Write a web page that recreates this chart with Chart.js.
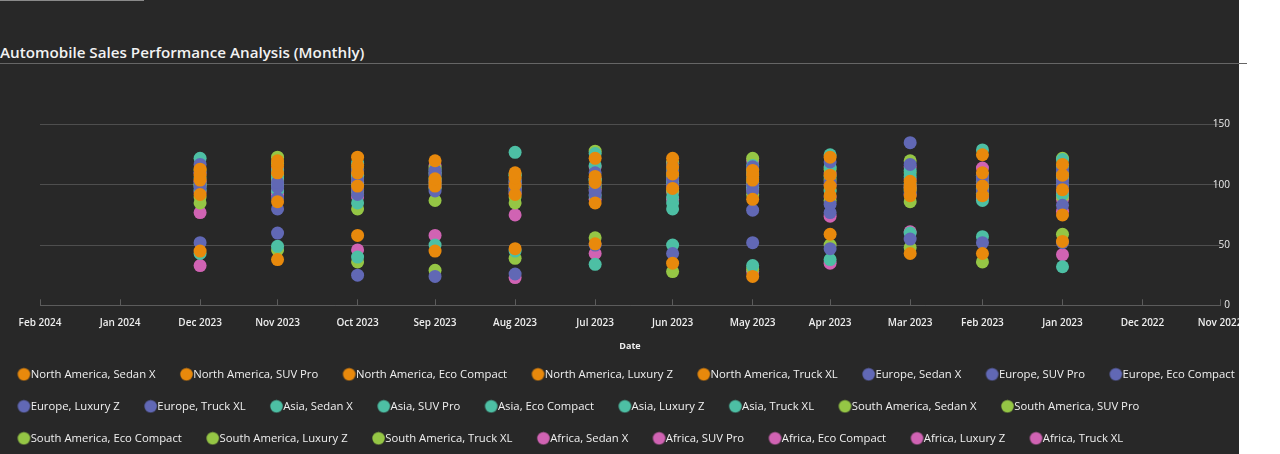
<!DOCTYPE html>
<html>
<head>
<meta charset="utf-8">
<script src="https://cdn.jsdelivr.net/npm/chart.js@4.4.1/dist/chart.umd.min.js"></script>
<style>
  body { margin: 0; background: #fff; font-family: 'Segoe UI', 'Open Sans', sans-serif; }
  #panel { position: absolute; left: 0; top: 0; width: 1239px; height: 454px; background: #282828; overflow: hidden; }
  #topBar { position: absolute; left: 0; top: 0; width: 144px; height: 1px; background: #8a8a8a; }
  #title { position: absolute; left: 0; top: 42px; line-height: 20px; color: #f2f2f2; font-size: 15.2px; font-weight: 600; white-space: nowrap; }
  #rule { position: absolute; left: 0; top: 63px; width: 1247px; height: 1px; background: #666; }
  #chartBox { position: absolute; left: -7px; top: 64px; width: 1277px; height: 390px; }
</style>
</head>
<body>
<div id="panel">
  <div id="topBar"></div>
  <div id="title">Automobile Sales Performance Analysis (Monthly)</div>
  <div id="chartBox"><canvas id="salesChart"></canvas></div>
</div>
<div id="rule"></div>
<script>
// months shown, newest first (x axis is reversed)
const months = ['2023-12', '2023-11', '2023-10', '2023-09', '2023-08', '2023-07',
                '2023-06', '2023-05', '2023-04', '2023-03', '2023-02', '2023-01'];
const xTickMonths = ['2024-02', '2024-01', '2023-12', '2023-11', '2023-10', '2023-09', '2023-08', '2023-07',
                     '2023-06', '2023-05', '2023-04', '2023-03', '2023-02', '2023-01', '2022-12', '2022-11'];
const xTickLabels = ['Feb 2024', 'Jan 2024', 'Dec 2023', 'Nov 2023', 'Oct 2023', 'Sep 2023', 'Aug 2023', 'Jul 2023',
                     'Jun 2023', 'May 2023', 'Apr 2023', 'Mar 2023', 'Feb 2023', 'Jan 2023', 'Dec 2022', 'Nov 2022'];
const yTicks = [0, 50, 100, 150];

const regions = ['North America', 'Europe', 'Asia', 'South America', 'Africa'];
const models = ['Sedan X', 'SUV Pro', 'Eco Compact', 'Luxury Z', 'Truck XL'];
const regionColors = ['#E8890C', '#6168B5', '#4DBFA4', '#95C645', '#D063B3'];

// one row per model, one value per month
const northAmerica = [
  [113, 120, 123, 120, 110, 122, 122, 112, 123, 103, 125, 117],
  [108, 116, 116, 105, 106, 107, 115, 108, 108, 99, 110, 96],
  [104, 110, 110, 99, 92, 102, 109, 104, 99, 91, 99, 75],
  [92, 86, 99, 45, 47, 85, 97, 88, 91, 43, 91, 53],
  [45, 38, 58, 102, 100, 51, 35, 24, 59, 96, 43, 108]
];
const europe = [
  [117, 102, 92, 95, 101, 110, 116, 95, 119, 135, 105, 103],
  [102, 98, 25, 24, 26, 95, 105, 79, 84, 117, 95, 83],
  [98, 89, 96, 108, 96, 92, 43, 52, 77, 55, 52, 52],
  [52, 80, 104, 112, 104, 50, 100, 100, 47, 100, 108, 99],
  [110, 60, 112, 100, 94, 100, 111, 115, 102, 93, 101, 112]
];
const asia = [
  [122, 106, 85, 112, 127, 126, 90, 116, 125, 112, 129, 121],
  [106, 49, 40, 109, 45, 91, 80, 33, 107, 107, 87, 92],
  [100, 112, 118, 50, 108, 34, 50, 110, 38, 95, 57, 32],
  [43, 100, 100, 104, 98, 116, 85, 98, 95, 60, 108, 106],
  [96, 95, 108, 97, 103, 104, 102, 106, 115, 101, 97, 115]
];
const southAmerica = [
  [99, 123, 105, 87, 85, 128, 107, 122, 113, 120, 36, 122],
  [85, 46, 80, 29, 39, 56, 28, 30, 87, 86, 100, 110],
  [112, 108, 36, 114, 95, 100, 112, 102, 50, 48, 103, 59],
  [90, 104, 113, 106, 108, 98, 95, 113, 104, 110, 93, 100],
  [101, 118, 94, 101, 90, 104, 118, 92, 96, 97, 108, 90]
];
const africa = [
  [77, 95, 46, 116, 75, 115, 94, 120, 74, 61, 114, 78],
  [33, 92, 108, 58, 23, 43, 118, 28, 35, 105, 106, 42],
  [94, 100, 102, 110, 102, 105, 99, 100, 110, 98, 100, 94],
  [103, 104, 90, 103, 97, 88, 104, 109, 100, 115, 89, 105],
  [110, 113, 96, 98, 93, 96, 88, 96, 90, 92, 96, 88]
];
const regionSales = [northAmerica, europe, asia, southAmerica, africa];

const legendFontSize = 11.3;

function dayNumber(ym) {
  const parts = ym.split('-').map(Number);
  return Date.UTC(parts[0], parts[1] - 1, 1) / 86400000;
}

// legend marker: circle pushed right so it sits against the label text
function legendDot(color) {
  const c = document.createElement('canvas');
  c.width = 40;
  c.height = 14;
  const ctx = c.getContext('2d');
  ctx.fillStyle = color;
  ctx.beginPath();
  ctx.arc(20 + legendFontSize - 6.75, 7, 6.25, 0, Math.PI * 2);
  ctx.fill();
  return c;
}

const datasets = [];
regions.forEach((region, r) => {
  models.forEach((model, m) => {
    datasets.push({
      label: region + ', ' + model,
      data: months.map((mo, i) => ({ x: dayNumber(mo), y: regionSales[r][m][i] })),
      backgroundColor: regionColors[r],
      borderWidth: 0,
      pointRadius: 6.5,
      pointHoverRadius: 6.5
    });
  });
});

Chart.defaults.font.family = "'Segoe UI', 'Open Sans', sans-serif";
Chart.defaults.color = '#eeeeee';

new Chart(document.getElementById('salesChart').getContext('2d'), {
  type: 'scatter',
  data: { datasets: datasets },
  options: {
    responsive: true,
    maintainAspectRatio: false,
    animation: false,
    layout: { padding: { top: 24.5, left: 0, right: 0, bottom: 0 } },
    scales: {
      x: {
        type: 'linear',
        reverse: true,
        min: dayNumber('2022-11'),
        max: dayNumber('2024-02'),
        afterBuildTicks: (axis) => { axis.ticks = xTickMonths.map(m => ({ value: dayNumber(m) })); },
        afterFit: (axis) => { axis.paddingLeft = 47; axis.paddingRight = 50; },
        ticks: {
          autoSkip: false,
          maxRotation: 0,
          padding: 17.7,
          color: '#eeeeee',
          font: { size: 10, weight: '600', lineHeight: 1.2 },
          callback: (value, index) => xTickLabels[index]
        },
        grid: { display: true, drawOnChartArea: false, drawTicks: true, tickLength: -6, color: '#5c5c5c' },
        border: { display: true, color: '#5c5c5c' },
        title: {
          display: true,
          text: 'Date',
          color: '#eeeeee',
          font: { size: 9, weight: 'bold', lineHeight: 1.2 },
          padding: { top: -6.1, bottom: -3.4 }
        }
      },
      y: {
        type: 'linear',
        position: 'right',
        min: 0,
        max: 180,
        afterBuildTicks: (axis) => { axis.ticks = yTicks.map(v => ({ value: v })); },
        ticks: {
          mirror: true,
          padding: 10,
          crossAlign: 'near',
          color: '#eeeeee',
          font: { size: 10 },
          callback: (value) => String(value)
        },
        grid: { color: '#4e4e4e', drawTicks: false },
        border: { display: false }
      }
    },
    plugins: {
      title: { display: false },
      tooltip: { enabled: false },
      legend: {
        display: true,
        position: 'bottom',
        align: 'start',
        labels: {
          usePointStyle: true,
          padding: 20.7,
          color: '#f0f0f0',
          font: { size: legendFontSize },
          generateLabels: (chart) => {
            const items = Chart.defaults.plugins.legend.labels.generateLabels(chart);
            items.forEach((item, i) => {
              item.pointStyle = legendDot(regionColors[Math.floor(i / models.length)]);
            });
            return items;
          }
        }
      }
    }
  }
});
</script>
</body>
</html>
